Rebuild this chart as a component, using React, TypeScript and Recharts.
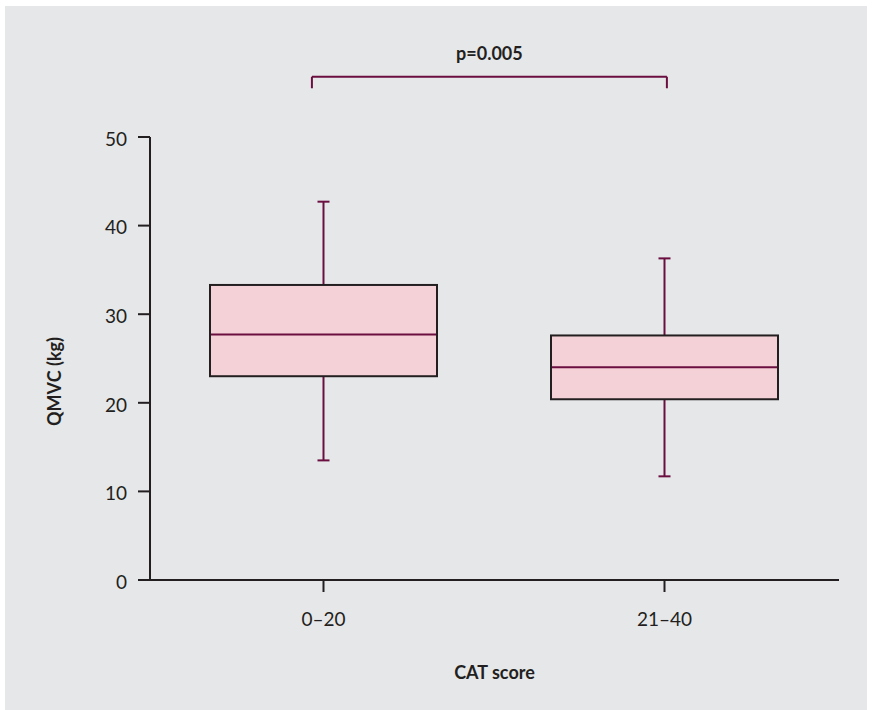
import React from 'react';
import { ComposedChart, Bar, XAxis, YAxis, ReferenceLine, Label } from 'recharts';

// ---- data ----
const categories = ['0–20', '21–40'];
const minValues = [13.5, 11.7];
const q1Values = [23.0, 20.4];
const medianValues = [27.7, 24.0];
const q3Values = [33.3, 27.6];
const maxValues = [42.7, 36.3];
const yTicks = [0, 10, 20, 30, 40, 50];
const pValueLabel = 'p=0.005';
const bracketLevel = 56.8;
const bracketFoot = 55.5;
const bracketEnds = [-0.034, 1.007];

const data = categories.map((c, i) => ({
  category: c,
  pos: i,
  range: [minValues[i], maxValues[i]],
  min: minValues[i],
  q1: q1Values[i],
  median: medianValues[i],
  q3: q3Values[i],
  max: maxValues[i],
}));

const MAROON = '#6b0f40';
const DARK = '#231f20';
const PINK = '#f4d1d6';
const BG = '#e6e7e9';
const FONT = 'Lato, "Open Sans", sans-serif';

const BoxShape = (props: any) => {
  const { x, y, width, height, payload } = props;
  const { min, q1, median, q3, max } = payload;
  const ppu = height / (max - min);
  const yOf = (v: number) => y + (max - v) * ppu;
  const cx = x + width / 2;
  const cap = 6;
  return (
    <g>
      <line x1={cx} x2={cx} y1={yOf(max)} y2={yOf(q3)} stroke={MAROON} strokeWidth={2} />
      <line x1={cx} x2={cx} y1={yOf(q1)} y2={yOf(min)} stroke={MAROON} strokeWidth={2} />
      <line x1={cx - cap} x2={cx + cap} y1={yOf(max)} y2={yOf(max)} stroke={MAROON} strokeWidth={2} />
      <line x1={cx - cap} x2={cx + cap} y1={yOf(min)} y2={yOf(min)} stroke={MAROON} strokeWidth={2} />
      <rect x={x} y={yOf(q3)} width={width} height={yOf(q1) - yOf(q3)} fill={PINK} stroke={DARK} strokeWidth={2} />
      <line x1={x + 1} x2={x + width - 1} y1={yOf(median)} y2={yOf(median)} stroke={MAROON} strokeWidth={2} />
    </g>
  );
};

const YLabel = (props: any) => {
  const vb = props.viewBox;
  const cx = vb.x + 49;
  const cy = vb.y + vb.height / 2 + 23;
  return (
    <text x={cx} y={cy} transform={`rotate(-90 ${cx} ${cy})`} textAnchor="middle" dominantBaseline="central"
      fill={DARK} fontWeight="bold" fontSize={18} fontFamily={FONT}>
      QMVC (kg)
    </text>
  );
};

const XLabel = (props: any) => {
  const vb = props.viewBox;
  return (
    <text x={vb.x + vb.width / 2} y={vb.y + 99} textAnchor="middle" fill={DARK} fontWeight="bold" fontSize={18} fontFamily={FONT}>
      CAT score
    </text>
  );
};

export default function App() {
  return (
    <div style={{ position: 'absolute', left: 5, top: 6, width: 862, height: 704, background: BG, fontFamily: FONT }}>
      <ComposedChart width={862} height={704} data={data} margin={{ top: 131, right: 28, bottom: 90, left: 0 }}>
        <XAxis
          dataKey="category"
          type="category"
          height={40}
          padding={{ left: 3, right: 4 }}
          axisLine={{ stroke: DARK, strokeWidth: 2 }}
          tickLine={{ stroke: DARK, strokeWidth: 2 }}
          tickSize={12}
          tickMargin={21}
          tick={{ fill: DARK, fontSize: 19, fontFamily: FONT }}
          label={<XLabel />}
        />
        <XAxis xAxisId="n" dataKey="pos" type="number" domain={[-0.5088, 1.5117]} allowDataOverflow hide />
        <YAxis
          type="number"
          domain={[0, 50]}
          ticks={yTicks}
          width={145}
          axisLine={{ stroke: DARK, strokeWidth: 2 }}
          tickLine={{ stroke: DARK, strokeWidth: 2 }}
          tickSize={12}
          tickMargin={11}
          tick={{ fill: DARK, fontSize: 19, fontFamily: FONT, dy: 2 }}
          label={<YLabel />}
        />
        <Bar dataKey="range" barSize={227} shape={<BoxShape />} isAnimationActive={false} />
        <ReferenceLine
          xAxisId="n"
          segment={[{ x: bracketEnds[0], y: bracketLevel }, { x: bracketEnds[1], y: bracketLevel }]}
          stroke={MAROON}
          strokeWidth={2}
          ifOverflow="visible"
        >
          <Label value={pValueLabel} position="top" offset={17} fill={DARK} fontWeight="bold" fontSize={18} fontFamily={FONT} />
        </ReferenceLine>
        <ReferenceLine
          xAxisId="n"
          segment={[{ x: bracketEnds[0], y: bracketLevel }, { x: bracketEnds[0], y: bracketFoot }]}
          stroke={MAROON}
          strokeWidth={2}
          ifOverflow="visible"
        />
        <ReferenceLine
          xAxisId="n"
          segment={[{ x: bracketEnds[1], y: bracketLevel }, { x: bracketEnds[1], y: bracketFoot }]}
          stroke={MAROON}
          strokeWidth={2}
          ifOverflow="visible"
        />
      </ComposedChart>
    </div>
  );
}
